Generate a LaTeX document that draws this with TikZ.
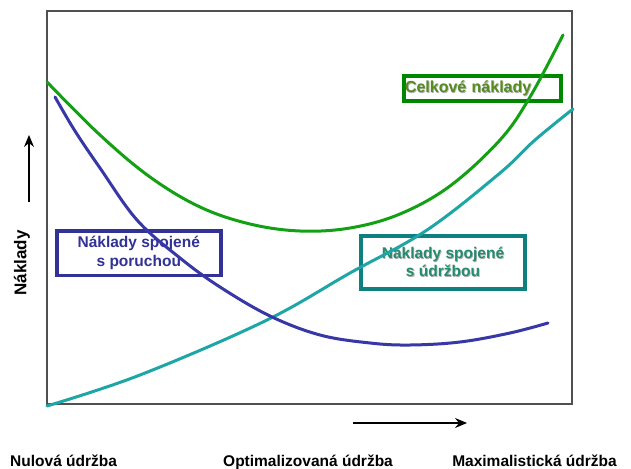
\documentclass[tikz,border=0pt]{standalone}
\usepackage{fontspec}
\setmainfont{Liberation Sans}
\usetikzlibrary{arrows.meta}

\definecolor{framegray}{RGB}{80,80,80}
\definecolor{curveblue}{RGB}{55,55,165}
\definecolor{boxblue}{RGB}{50,50,150}
\definecolor{textblue}{RGB}{50,50,150}
\definecolor{curvegreen}{RGB}{20,160,20}
\definecolor{boxgreen}{RGB}{0,135,0}
\definecolor{textgreen}{RGB}{85,140,30}
\definecolor{curveteal}{RGB}{30,165,165}
\definecolor{boxteal}{RGB}{15,128,128}
\definecolor{textteal}{RGB}{35,140,110}
\definecolor{shadowgray}{RGB}{175,175,175}

% text with a light drop shadow
\newcommand\shtext[1]{\makebox[0pt][l]{\kern0.8pt\raisebox{-0.8pt}{\color{shadowgray}#1}}#1}

\tikzset{
  labelfont/.style={font=\bfseries\fontsize{15.5}{18.5}\selectfont},
  costbox/.style={labelfont, fill=white, inner sep=0pt, align=center},
  costcurve/.style={line width=3pt, line cap=round, line join=round},
  axisarrow/.style={line width=1.1pt, -{Stealth[length=12pt, width=10pt, inset=4pt]}},
  axislabel/.style={labelfont, inner sep=0pt}
}

\begin{document}
\begin{tikzpicture}[x=1pt,y=-1pt]
\useasboundingbox (0,0) rectangle (631,468);
\fill[white] (0,0) rectangle (631,468);

% plot frame
\draw[framegray, line width=1.3pt] (47,11) rectangle (572,404);

% legend boxes
\node[costbox, draw=boxblue, line width=3.5pt, text=textblue,
      minimum width=164pt, minimum height=44.5pt] (poruchy) at (138.8,253)
  {Náklady spojené\\s poruchou};
\node[costbox, draw=boxteal, line width=4pt, text=textteal,
      minimum width=164pt, minimum height=53pt] (udrzba) at (443,262.5)
  {\shtext{Náklady spojené}\\\shtext{s údržbou}};
\node[costbox, draw=boxgreen, line width=4pt, text=textgreen, align=left,
      font=\bfseries\fontsize{16}{18}\selectfont,
      text width=155pt, inner xsep=1pt,
      minimum width=157pt, minimum height=25pt] (celkem) at (482.5,88.5)
  {\shtext{Celkové náklady}};

% cost curves
\draw[costcurve, curveteal] plot[smooth, tension=0.6] coordinates
  {(47,406) (140,375) (265,321) (350,273) (427,230) (500,173) (535,140) (573,109)};
\draw[costcurve, curveblue] plot[smooth, tension=0.6] coordinates
  {(55,97) (75,131) (100,168) (137,220) (180,258) (220,287) (270,316) (320,335) (370,343) (410,345) (460,342) (510,333) (548,323)};
\draw[costcurve, curvegreen] plot[smooth, tension=0.6] coordinates
  {(47,82) (100,135) (150,177) (200,207) (250,224) (300,231) (350,228) (400,214) (450,186) (500,140) (530,97) (563,35)};

% axis arrows
\coordinate (ytail) at (29,202);
\coordinate (yhead) at (29,135);
\coordinate (xtail) at (353,423);
\coordinate (xhead) at (467,423);
\draw[axisarrow] (ytail) -- (yhead);
\draw[axisarrow] (xtail) -- (xhead);

% axis labels
\node[axislabel, rotate=90, font=\bfseries\fontsize{17}{18}\selectfont] (ylabel) at (22,263) {Náklady};
\node[axislabel, anchor=base west] (nulova) at (10,466) {Nulová údržba};
\node[axislabel, anchor=base west] (optimal) at (223,466) {Optimalizovaná údržba};
\node[axislabel, anchor=base east] (maximal) at (617,466) {Maximalistická údržba};
\end{tikzpicture}
\end{document}
